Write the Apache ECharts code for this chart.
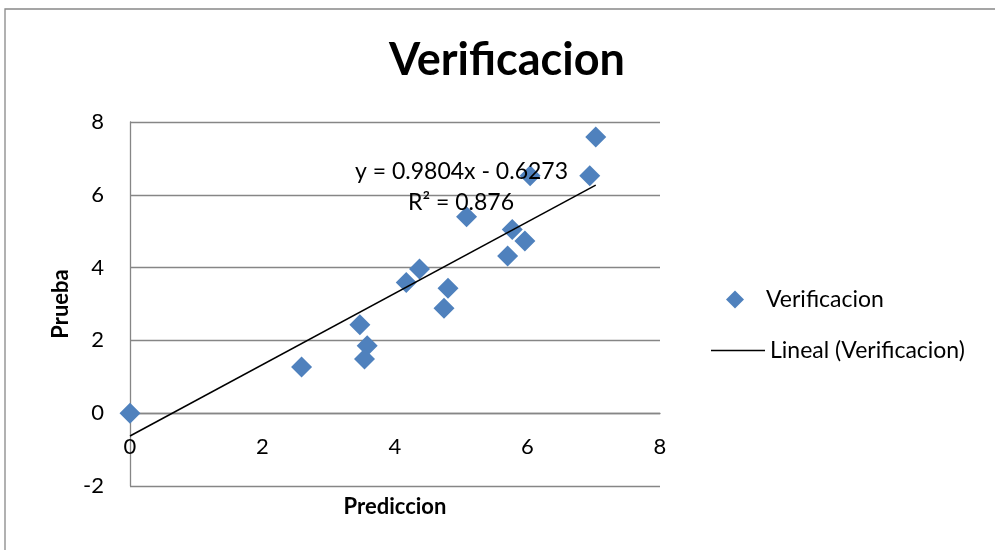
<!DOCTYPE html>
<html>
<head>
<meta charset="utf-8">
<script src="https://cdn.jsdelivr.net/npm/echarts@6/dist/echarts.min.js"></script>
<style>
html,body{margin:0;padding:0;background:#fff;}
#chart{width:995px;height:550px;}
</style>
</head>
<body>
<div id="chart"></div>
<script>
// Data
const prediccion = [0, 2.59, 3.47, 3.58, 3.54, 4.17, 4.37, 4.80, 4.74, 5.08, 5.77, 5.96, 5.70, 7.03, 6.94, 6.04];
const prueba     = [0, 1.27, 2.43, 1.85, 1.49, 3.59, 3.96, 3.43, 2.88, 5.40, 5.05, 4.73, 4.32, 7.59, 6.52, 6.52];
const slope = 0.9804;
const intercept = -0.6273;
const rSquared = 0.876;
const xTicks = [0, 2, 4, 6, 8];
const yTicks = [-2, 0, 2, 4, 6, 8];

const FONT = 'Lato, "Open Sans", sans-serif';
const points = prediccion.map((x, i) => [x, prueba[i]]);
const xMinData = Math.min(...prediccion);
const xMaxData = Math.max(...prediccion);
const trend = [xMinData, xMaxData].map(x => [x, slope * x + intercept]);

const chart = echarts.init(document.getElementById('chart'));
chart.setOption({
  backgroundColor: '#fff',
  animation: false,
  title: {
    text: 'Verificacion',
    left: 502, top: 33, textAlign: 'center',
    textStyle: {fontFamily: FONT, fontSize: 45, fontWeight: 'bold', color: '#000'}
  },
  grid: {left: 130, right: 335, top: 122, bottom: 64, containLabel: false, outerBoundsMode: 'none'},
  xAxis: {
    type: 'value', min: xTicks[0], max: xTicks[xTicks.length - 1], interval: 2,
    name: 'Prediccion', nameLocation: 'middle', nameGap: 10,
    nameTextStyle: {fontFamily: FONT, fontSize: 22, fontWeight: 'bold', color: '#000', verticalAlign: 'top'},
    axisLine: {onZero: true, lineStyle: {color: '#868686', width: 1.3}},
    axisTick: {show: false},
    axisLabel: {fontFamily: FONT, fontSize: 22, color: '#000', margin: -50},
    splitLine: {show: false}
  },
  yAxis: {
    type: 'value', min: yTicks[0], max: yTicks[yTicks.length - 1], interval: 2,
    name: 'Prueba', nameLocation: 'middle', nameGap: 58, nameRotate: 90,
    nameTextStyle: {fontFamily: FONT, fontSize: 22, fontWeight: 'bold', color: '#000'},
    axisLine: {show: true, lineStyle: {color: '#868686', width: 1.3}},
    axisTick: {show: false},
    axisLabel: {fontFamily: FONT, fontSize: 22, color: '#000', margin: 26},
    splitLine: {show: true, lineStyle: {color: '#868686', width: 1.3}}
  },
  legend: [
    {
      orient: 'vertical', left: 721, top: 283,
      itemWidth: 18, itemHeight: 18,
      textStyle: {fontFamily: FONT, fontSize: 23, color: '#000', padding: [0, 0, 0, 17]},
      data: [{name: 'Verificacion', icon: 'diamond', itemStyle: {color: '#4F81BD', opacity: 1}}]
    },
    {
      orient: 'vertical', left: 706, top: 334,
      itemWidth: 54, itemHeight: 1.6,
      textStyle: {fontFamily: FONT, fontSize: 23, color: '#000', padding: [0, 0, 0, 0]},
      data: [{name: 'Lineal (Verificacion)', icon: 'rect', itemStyle: {color: '#000'}}]
    }
  ],
  series: [
    {
      name: 'Verificacion', type: 'scatter', symbol: 'diamond', symbolSize: 21,
      itemStyle: {color: '#4F81BD', opacity: 1}, data: points, z: 3
    },
    {
      name: 'Lineal (Verificacion)', type: 'line', symbol: 'none', showSymbol: false,
      lineStyle: {color: '#000', width: 1.5}, itemStyle: {color: '#000'},
      data: trend, z: 4
    }
  ],
  graphic: [
    {type: 'rect', shape: {x: 5, y: 9, width: 1200, height: 800}, style: {fill: 'none', stroke: '#888', lineWidth: 1.3}, silent: true},
    {type: 'text', left: 355, top: 160, z: 10,
      style: {text: 'y = ' + slope + 'x - ' + Math.abs(intercept), fontFamily: FONT, fontSize: 23, fill: '#000'}},
    {type: 'text', left: 408, top: 191, z: 10,
      style: {text: 'R² = ' + rSquared, fontFamily: FONT, fontSize: 23, fill: '#000'}}
  ]
});
</script>
</body>
</html>
